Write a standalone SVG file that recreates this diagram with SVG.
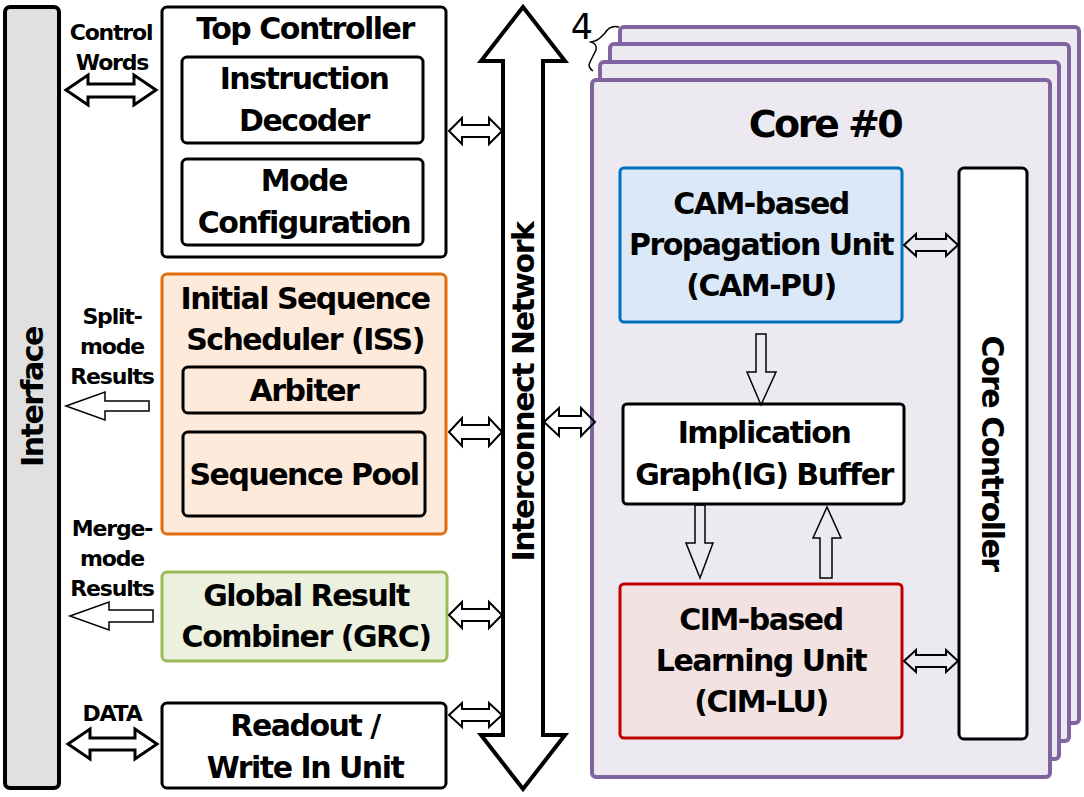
<svg xmlns="http://www.w3.org/2000/svg" width="1084" height="797" viewBox="0 0 1084 797">
<style>
text{font-family:"DejaVu Sans",sans-serif;font-weight:bold;text-anchor:middle;fill:#000}
.t{font-size:30px;letter-spacing:-1.5px}
.s{font-size:22px;letter-spacing:-1.2px}
.box{stroke:#000;stroke-width:3;fill:#fff}
.core{stroke:#8064a2;stroke-width:4;fill:#ece9f1}
.arr{fill:none;stroke:#000;stroke-width:2;stroke-linejoin:miter}
.thin{fill:none;stroke:#000;stroke-width:1.5}
</style>
<rect width="1084" height="797" fill="#fff"/>

<g id="interface">
<rect x="5" y="7" width="54" height="781" rx="5" fill="#e0e0e0" stroke="#000" stroke-width="4"/>
<text class="t" transform="translate(43,397) rotate(-90)">Interface</text>
</g>

<g id="top-controller">
<rect class="box" x="162" y="7" width="284" height="250" rx="5"/>
<text class="t" x="305" y="39">Top Controller</text>
</g>
<g id="instruction-decoder">
<rect class="box" x="182" y="57" width="241" height="86" rx="5"/>
<text class="t" x="304" y="89">Instruction</text>
<text class="t" x="304" y="131">Decoder</text>
</g>
<g id="mode-configuration">
<rect class="box" x="182" y="159" width="241" height="86" rx="5"/>
<text class="t" x="304" y="191">Mode</text>
<text class="t" x="304" y="233">Configuration</text>
</g>

<g id="iss">
<rect x="162" y="274" width="284" height="260" rx="5" fill="#fdeada" stroke="#e46c0a" stroke-width="3"/>
<text class="t" x="305" y="309">Initial Sequence</text>
<text class="t" x="305" y="350">Scheduler (ISS)</text>
</g>
<g id="arbiter">
<rect x="183" y="367" width="242" height="46" rx="5" fill="#fdeada" stroke="#000" stroke-width="3"/>
<text class="t" x="304" y="401">Arbiter</text>
</g>
<g id="sequence-pool">
<rect x="183" y="432" width="242" height="84" rx="5" fill="#fdeada" stroke="#000" stroke-width="3"/>
<text class="t" x="304" y="485">Sequence Pool</text>
</g>

<g id="grc">
<rect x="162" y="572" width="285" height="89" rx="5" fill="#ebf1de" stroke="#9bbb59" stroke-width="3"/>
<text class="t" x="306" y="606">Global Result</text>
<text class="t" x="306" y="647">Combiner (GRC)</text>
</g>

<g id="readout">
<rect class="box" x="162" y="703" width="284" height="85" rx="5"/>
<text class="t" x="305" y="736">Readout /</text>
<text class="t" x="305" y="778">Write In Unit</text>
</g>

<g id="side-labels">
<text class="s" x="111" y="40">Control</text>
<text class="s" x="112" y="70">Words</text>
<text class="s" x="112" y="324">Split-</text>
<text class="s" x="112" y="354">mode</text>
<text class="s" x="112" y="384">Results</text>
<text class="s" x="112" y="536">Merge-</text>
<text class="s" x="112" y="566">mode</text>
<text class="s" x="112" y="596">Results</text>
<text class="s" x="112" y="721">DATA</text>
</g>

<g id="interconnect">
<path d="M523,7 L565,61 L543,61 L543,735 L565,735 L523,789 L481,735 L503,735 L503,61 L481,61 Z" fill="#fff" stroke="#000" stroke-width="4" stroke-linejoin="miter"/>
<text class="t" transform="translate(534,392) rotate(-90)">Interconnect Network</text>
</g>

<g id="cores">
<rect class="core" x="620" y="27" width="459" height="696" rx="4"/>
<rect class="core" x="610" y="44" width="459" height="697" rx="4"/>
<rect class="core" x="600" y="62" width="459" height="697" rx="4"/>
<rect class="core" x="592" y="80" width="458" height="697" rx="4"/>
<text x="825" y="137" style="font-size:38px;letter-spacing:-2.5px">Core #0</text>
<text x="582" y="39" style="font-size:35px;font-weight:normal">4</text>
<path d="M619,27 C612,25 608,28 605,33 L600,38 C597,41 594,41 591,42 C595,43 597,46 596,50 L590,62 C588,66 590,69 593,71" fill="none" stroke="#000" stroke-width="1.5"/>
</g>

<g id="cam-pu">
<rect x="620" y="168" width="282" height="154" rx="4" fill="#dae8f7" stroke="#0070c0" stroke-width="3"/>
<text class="t" x="761" y="214">CAM-based</text>
<text class="t" x="761" y="255">Propagation Unit</text>
<text class="t" x="761" y="296">(CAM-PU)</text>
</g>

<g id="ig-buffer">
<rect class="box" x="623" y="404" width="281" height="100" rx="4"/>
<text class="t" x="764" y="443">Implication</text>
<text class="t" x="764" y="485">Graph(IG) Buffer</text>
</g>

<g id="cim-lu">
<rect x="620" y="584" width="282" height="154" rx="4" fill="#f3e2e2" stroke="#c00000" stroke-width="3"/>
<text class="t" x="761" y="630">CIM-based</text>
<text class="t" x="761" y="671">Learning Unit</text>
<text class="t" x="761" y="712">(CIM-LU)</text>
</g>

<g id="core-controller">
<rect class="box" x="959" y="168" width="68" height="571" rx="5"/>
<text class="t" transform="translate(982,453) rotate(90)">Core Controller</text>
</g>

<g id="connectors">
<path class="arr" style="stroke-width:3" d="M66,90 L88,75 L88,84 L134,84 L134,75 L156,90 L134,105 L134,97 L88,97 L88,105 Z"/>
<path class="arr" style="stroke-width:3" d="M68,744 L90,729 L90,738 L135,738 L135,729 L157,744 L135,759 L135,750 L90,750 L90,759 Z"/>
<path class="thin" d="M66,406 L105,392 L105,401 L149,401 L149,411 L105,411 L105,420 Z"/>
<path class="thin" d="M70,616 L109,602 L109,610 L153,610 L153,622 L109,622 L109,630 Z"/>
<path class="arr" d="M449,131 L462,118 L462,125 L489,125 L489,118 L502,131 L489,144 L489,137 L462,137 L462,144 Z"/>
<path class="arr" d="M449,432 L462,418 L462,425 L489,425 L489,418 L502,432 L489,446 L489,439 L462,439 L462,446 Z"/>
<path class="arr" d="M449,615 L462,602 L462,609 L489,609 L489,602 L502,615 L489,628 L489,621 L462,621 L462,628 Z"/>
<path class="arr" d="M449,715 L462,703 L462,709 L489,709 L489,703 L502,715 L489,727 L489,721 L462,721 L462,727 Z"/>
<path class="arr" d="M544,422 L559,408 L559,416 L581,416 L581,408 L595,422 L581,436 L581,428 L559,428 L559,436 Z"/>
<path class="arr" d="M904,245 L916,234 L916,239 L946,239 L946,234 L958,245 L946,256 L946,251 L916,251 L916,256 Z"/>
<path class="arr" d="M904,661 L916,650 L916,655 L946,655 L946,650 L958,661 L946,672 L946,667 L916,667 L916,672 Z"/>
<path class="thin" d="M756,334 L766,334 L766,372 L776,372 L761,405 L747,372 L756,372 Z"/>
<path class="thin" d="M695,505 L705,505 L705,543 L713,543 L700,578 L686,543 L695,543 Z"/>
<path class="thin" d="M820,578 L832,578 L832,538 L841,538 L827,507 L813,538 L820,538 Z"/>
</g>
</svg>
